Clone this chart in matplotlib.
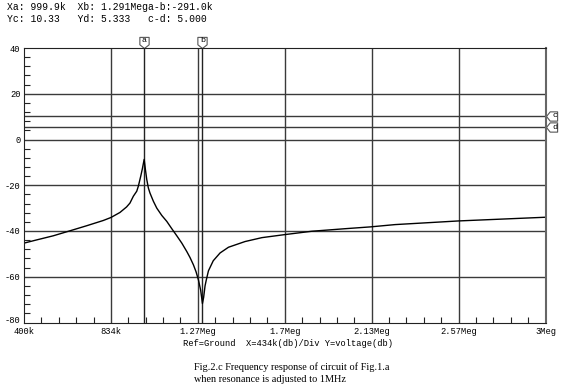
import matplotlib.pyplot as plt
from matplotlib.path import Path
from matplotlib.transforms import ScaledTranslation

# frequency in kHz, level in dB
freq = [400, 463, 546, 630, 713, 796, 834, 879, 912, 929, 946, 963, 971,
        983, 991, 1000, 1006, 1013, 1021, 1029, 1046, 1063, 1088, 1113,
        1138, 1163, 1188, 1213, 1229, 1246, 1259, 1271, 1282, 1291, 1297,
        1304, 1310, 1321, 1345, 1379, 1421, 1504, 1588, 1700, 1838, 2003,
        2130, 2253, 2570, 3000]
level = [-45.3, -43.9, -42.1, -39.9, -37.7, -35.4, -34.1, -31.9, -29.5,
         -27.8, -24.8, -22.6, -20.4, -16.0, -12.8, -8.7, -13.0, -17.5,
         -21.2, -23.4, -27.0, -30.0, -33.2, -35.8, -39.0, -42.1, -45.3,
         -49.0, -51.6, -54.8, -57.8, -61.4, -65.8, -71.7, -69.0, -64.0,
         -61.5, -57.4, -53.0, -49.6, -47.1, -44.6, -42.9, -41.6, -40.1,
         -39.0, -38.2, -37.2, -35.6, -34.0]

x_ticks = [400, 834, 1268, 1702, 2136, 2570, 3004]
x_labels = ["400k", "834k", "1.27Meg", "1.7Meg", "2.13Meg", "2.57Meg", "3Meg"]
y_ticks = [-80, -60, -40, -20, 0, 20, 40]

cursor_x = {"a": 999.9, "b": 1291.0}
cursor_y = {"c": 10.33, "d": 5.333}

header = ["Xa: 999.9k  Xb: 1.291Mega-b:-291.0k",
          "Yc: 10.33   Yd: 5.333   c-d: 5.000"]
axis_note = "Ref=Ground  X=434k(db)/Div Y=voltage(db)"
caption = ["Fig.2.c Frequency response of circuit of Fig.1.a",
           "when resonance is adjusted to 1MHz"]

MONO = "Liberation Mono"
GRID = "#3a3a3a"


def tag_marker(direction):
    """Pentagon tag with its tip at the origin"""
    if direction == "down":
        verts = [(0, 0), (1, 0.8), (1, 2.4), (-1, 2.4), (-1, 0.8), (0, 0)]
    else:
        verts = [(0, 0), (0.8, 1), (2.4, 1), (2.4, -1), (0.8, -1), (0, 0)]
    codes = [Path.MOVETO] + [Path.LINETO] * 4 + [Path.CLOSEPOLY]
    return Path(verts, codes)


fig = plt.figure(figsize=(5.66, 3.87), dpi=100)
ax = fig.add_axes([24 / 566, 1 - 322.5 / 387, 521.5 / 566, 274.5 / 387])

ax.set_xlim(400, 3004)
ax.set_ylim(-80, 40)

for v in y_ticks[1:-1]:
    ax.axhline(v, color=GRID, lw=1)
for v in x_ticks[1:-1]:
    ax.axvline(v, color=GRID, lw=1)

for name, v in cursor_y.items():
    ax.axhline(v, color=GRID, lw=1)
    ax.plot(3004, v, marker=tag_marker("left"), markersize=16, mfc="white",
            mec="#555555", mew=0.8, clip_on=False)
    ax.annotate(name, xy=(3004, v), xytext=(6.5, 0), textcoords="offset points",
                ha="center", va="center", fontsize=6, family=MONO,
                annotation_clip=False)

for name, v in cursor_x.items():
    ax.axvline(v, color="#222222", lw=1)
    ax.plot(v, 40, marker=tag_marker("down"), markersize=16, mfc="white",
            mec="#555555", mew=0.8, clip_on=False)
    ax.annotate(name, xy=(v, 40), xytext=(0, 5.5), textcoords="offset points",
                ha="center", va="center", fontsize=6, family=MONO,
                annotation_clip=False)

ax.plot(freq, level, color="black", lw=1)

ax.set_xticks(x_ticks)
ax.set_xticklabels(x_labels, family=MONO, fontsize=6.3)
ax.set_yticks(y_ticks)
ax.set_yticklabels([str(v) for v in y_ticks], family=MONO, fontsize=6.3)
ax.set_xticks([400 + 434 * i / 5 for i in range(31)], minor=True)
ax.set_yticks([-80 + 4 * i for i in range(31)], minor=True)
ax.tick_params(which="major", length=0)
ax.tick_params(axis="x", which="major", pad=3.5)
ax.tick_params(axis="y", which="major", pad=2.5)
ax.tick_params(which="minor", direction="in", length=4, width=0.8,
               color="#222222")

# nudge the bottom y label up a little so it clears "400k"
low = ax.get_yticklabels()[0]
low.set_transform(low.get_transform()
                  + ScaledTranslation(0, 2.5 / 72, fig.dpi_scale_trans))

for side in ["left", "bottom", "top"]:
    ax.spines[side].set_color("#222222")
ax.spines["right"].set_color("#666666")
ax.spines["right"].set_linewidth(1.5)

fig.text(7 / 566, 1 - 7 / 387, header[0], family=MONO, fontsize=7,
         va="center")
fig.text(7 / 566, 1 - 19 / 387, header[1], family=MONO, fontsize=7,
         va="center")
fig.text(288 / 566, 1 - 344 / 387, axis_note, family=MONO, fontsize=6.3,
         ha="center", va="center")
fig.text(194 / 566, 1 - 367 / 387, caption[0], family="Liberation Serif",
         fontsize=7.4, va="center")
fig.text(194 / 566, 1 - 380 / 387, caption[1], family="Liberation Serif",
         fontsize=7.4, va="center")

fig.savefig("out.png", dpi=100)
